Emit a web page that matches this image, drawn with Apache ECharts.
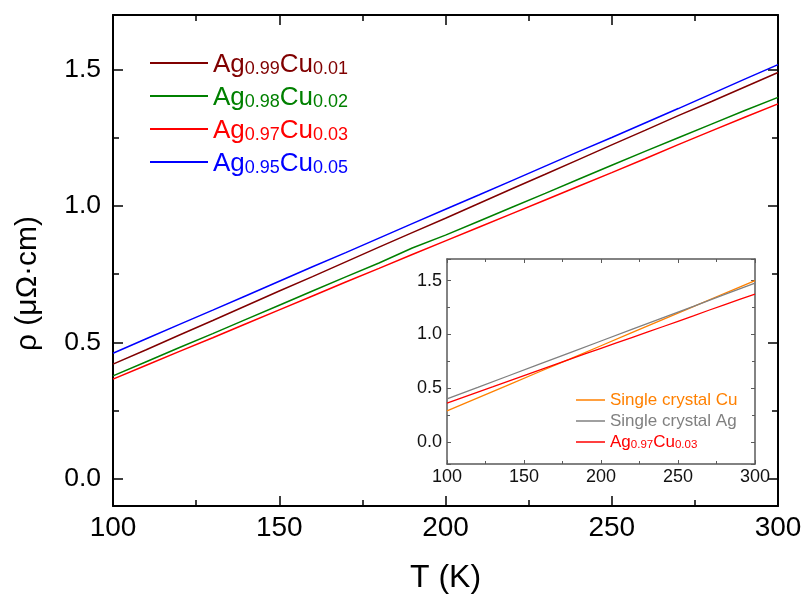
<!DOCTYPE html>
<html>
<head>
<meta charset="utf-8">
<script src="https://cdn.jsdelivr.net/npm/echarts@6/dist/echarts.min.js"></script>
<style>
html,body{margin:0;padding:0;background:#fff;}
#c{width:805px;height:599px;}
</style>
</head>
<body>
<div id="c"></div>
<script>
// ---- data ----
const temps = [100,110,120,130,140,150,160,170,180,190,200,210,220,230,240,250,260,270,280,290,300];
const rhoAg99Cu01 = [0.420,0.473,0.527,0.580,0.634,0.688,0.741,0.795,0.849,0.902,0.955,1.009,1.063,1.116,1.170,1.224,1.277,1.331,1.383,1.436,1.489];
const rhoAg98Cu02 = [0.377,0.429,0.481,0.532,0.584,0.636,0.688,0.740,0.791,0.846,0.893,0.944,0.995,1.046,1.098,1.149,1.200,1.250,1.300,1.350,1.398];
const rhoAg97Cu03 = [0.365,0.416,0.467,0.517,0.568,0.619,0.670,0.721,0.771,0.822,0.872,0.922,0.972,1.022,1.072,1.122,1.173,1.225,1.275,1.325,1.374];
const rhoAg95Cu05 = [0.460,0.513,0.566,0.618,0.671,0.724,0.777,0.829,0.882,0.935,0.988,1.040,1.093,1.146,1.199,1.251,1.304,1.357,1.411,1.465,1.518];
const insetTemps = [100,120,140,160,180,200,220,240,260,280,300];
const rhoCuSingle = [0.292,0.413,0.534,0.655,0.775,0.896,1.017,1.138,1.259,1.380,1.500];
const rhoAgSingle = [0.403,0.510,0.618,0.725,0.832,0.940,1.047,1.154,1.261,1.369,1.476];
const mainNames = ['Ag0.99Cu0.01','Ag0.98Cu0.02','Ag0.97Cu0.03','Ag0.95Cu0.05'];
const mainColors = ['#800000','#008000','#ff0000','#0000ff'];
const insetNames = ['Single crystal Cu','Single crystal Ag','Ag0.97Cu0.03'];
const insetColors = ['#ff8000','#808080','#ff0000'];
const xTicks = [100,150,200,250,300];
const yTickLabels = ['0.0','0.5','1.0','1.5'];

const FONT = "'Liberation Sans', Arial, sans-serif";
const pairs = (xs, ys) => xs.map((x, i) => [x, ys[i]]);
const mainData = [rhoAg99Cu01, rhoAg98Cu02, rhoAg97Cu03, rhoAg95Cu05];
const insetData = [rhoCuSingle, rhoAgSingle, rhoAg97Cu03];

function richFor(prefix, colors, big, small, lh) {
  const r = {};
  colors.forEach((c, i) => {
    r[prefix + 'A' + i] = {color: c, fontSize: big, fontFamily: FONT, lineHeight: lh, verticalAlign: 'bottom'};
    r[prefix + 's' + i] = {color: c, fontSize: small, fontFamily: FONT, lineHeight: lh, verticalAlign: 'bottom'};
    r[prefix + 'n' + i] = {color: c, fontSize: big, fontFamily: FONT, lineHeight: lh, verticalAlign: 'bottom'};
  });
  return r;
}
function fmt(prefix, names) {
  return function(name) {
    const i = names.indexOf(name);
    const m = /^Ag([\d.]+)Cu([\d.]+)$/.exec(name);
    if (m) {
      return '{' + prefix + 'A' + i + '|Ag}{' + prefix + 's' + i + '|' + m[1] + '}{' + prefix + 'A' + i + '|Cu}{' + prefix + 's' + i + '|' + m[2] + '}';
    }
    return '{' + prefix + 'n' + i + '|' + name + '}';
  };
}
function yLabel(v) {
  const s = v.toFixed(1);
  return yTickLabels.indexOf(s) >= 0 ? s : '';
}
function xLabel(v) {
  return xTicks.indexOf(v) >= 0 ? String(v) : '';
}

const chart = echarts.init(document.getElementById('c'), null, {renderer: 'canvas'});

const mainAxisLine = {show: true, onZero: false, lineStyle: {color: '#000', width: 2}};
const insetAxisLine = {show: true, onZero: false, lineStyle: {color: '#5a5a5a', width: 1.5}};
const mainTick = {show: true, inside: true, length: 10, lineStyle: {color: '#000', width: 1.5}};
const mainMinor = {show: true, splitNumber: 2, length: 6, lineStyle: {color: '#000', width: 1.5}};
const insetTick = {show: true, inside: true, length: 4, lineStyle: {color: '#5a5a5a', width: 1}};
const insetMinor = {show: true, splitNumber: 2, length: 3, lineStyle: {color: '#5a5a5a', width: 1}};

const option = {
  backgroundColor: '#fff',
  animation: false,
  textStyle: {fontFamily: FONT},
  grid: [
    {left: 113, top: 15, right: 27, bottom: 93, containLabel: false},
    {left: 447, top: 259, width: 308, height: 205, show: true, backgroundColor: '#fff', borderWidth: 0, z: 5}
  ],
  xAxis: [
    {type: 'value', gridIndex: 0, position: 'bottom', min: 100, max: 300, interval: 50,
     axisLine: mainAxisLine, splitLine: {show: false}, axisTick: mainTick, minorTick: mainMinor,
     axisLabel: {fontSize: 28, color: '#000', margin: 8, fontFamily: FONT, formatter: xLabel},
     name: 'T (K)', nameLocation: 'middle', nameGap: 56,
     nameTextStyle: {fontSize: 32, color: '#000', fontFamily: FONT}},
    {type: 'value', gridIndex: 0, position: 'top', min: 100, max: 300, interval: 50,
     axisLine: mainAxisLine, splitLine: {show: false}, axisTick: mainTick, minorTick: mainMinor,
     axisLabel: {show: false}},
    {type: 'value', gridIndex: 1, position: 'bottom', min: 100, max: 300, interval: 50,
     axisLine: insetAxisLine, splitLine: {show: false}, axisTick: insetTick, minorTick: insetMinor,
     axisLabel: {fontSize: 18, color: '#111', margin: 4, fontFamily: FONT, formatter: xLabel},
     z: 6},
    {type: 'value', gridIndex: 1, position: 'top', min: 100, max: 300, interval: 50,
     axisLine: insetAxisLine, splitLine: {show: false}, axisTick: insetTick, minorTick: insetMinor,
     axisLabel: {show: false}, z: 6}
  ],
  yAxis: [
    {type: 'value', gridIndex: 0, position: 'left', min: -0.1, max: 1.7, splitNumber: 4,
     axisLine: mainAxisLine, splitLine: {show: false}, axisTick: mainTick, minorTick: mainMinor,
     axisLabel: {fontSize: 26.5, color: '#000', margin: 12, fontFamily: FONT, formatter: yLabel, showMinLabel: false, showMaxLabel: false},
     name: 'ρ (μΩ·cm)', nameLocation: 'middle', nameGap: 70, nameRotate: 90,
     nameTextStyle: {fontSize: 30, color: '#000', fontFamily: FONT, padding: [0, 46, 0, 0]}},
    {type: 'value', gridIndex: 0, position: 'right', min: -0.1, max: 1.7, splitNumber: 4,
     axisLine: mainAxisLine, splitLine: {show: false}, axisTick: mainTick, minorTick: mainMinor,
     axisLabel: {show: false}},
    {type: 'value', gridIndex: 1, position: 'left', min: -0.2, max: 1.7, splitNumber: 4,
     axisLine: insetAxisLine, splitLine: {show: false}, axisTick: insetTick, minorTick: insetMinor,
     axisLabel: {fontSize: 18, color: '#111', margin: 5, fontFamily: FONT, formatter: yLabel, showMinLabel: false, showMaxLabel: false},
     z: 6},
    {type: 'value', gridIndex: 1, position: 'right', min: -0.2, max: 1.7, splitNumber: 4,
     axisLine: insetAxisLine, splitLine: {show: false}, axisTick: insetTick, minorTick: insetMinor,
     axisLabel: {show: false}, z: 6}
  ],
  legend: [
    {orient: 'vertical', left: 150, top: 48, padding: 0, itemWidth: 58, itemHeight: 2, itemGap: 3,
     icon: 'rect', selectedMode: false,
     data: mainNames,
     formatter: fmt('m', mainNames),
     textStyle: {fontFamily: FONT, lineHeight: 30, rich: richFor('m', mainColors, 26, 18, 30)}},
    {orient: 'vertical', left: 576, top: 391, padding: 0, itemWidth: 29, itemHeight: 1.5, itemGap: 3,
     icon: 'rect', selectedMode: false, z: 10,
     data: insetNames,
     formatter: fmt('i', insetNames),
     textStyle: {fontFamily: FONT, lineHeight: 18, rich: richFor('i', insetColors, 17, 11.5, 18)}}
  ],
  series: [
    ...mainNames.map((n, i) => ({
      name: n, type: 'line', xAxisIndex: 0, yAxisIndex: 0, symbol: 'none', silent: true,
      data: pairs(temps, mainData[i]),
      itemStyle: {color: mainColors[i]},
      lineStyle: {color: mainColors[i], width: 1.5}
    })),
    ...insetNames.map((n, i) => ({
      name: n, type: 'line', xAxisIndex: 2, yAxisIndex: 2, symbol: 'none', silent: true, z: 7,
      data: pairs(i === 2 ? temps : insetTemps, insetData[i]),
      itemStyle: {color: insetColors[i]},
      lineStyle: {color: insetColors[i], width: 1.3}
    }))
  ]
};
chart.setOption(option);
</script>
</body>
</html>
